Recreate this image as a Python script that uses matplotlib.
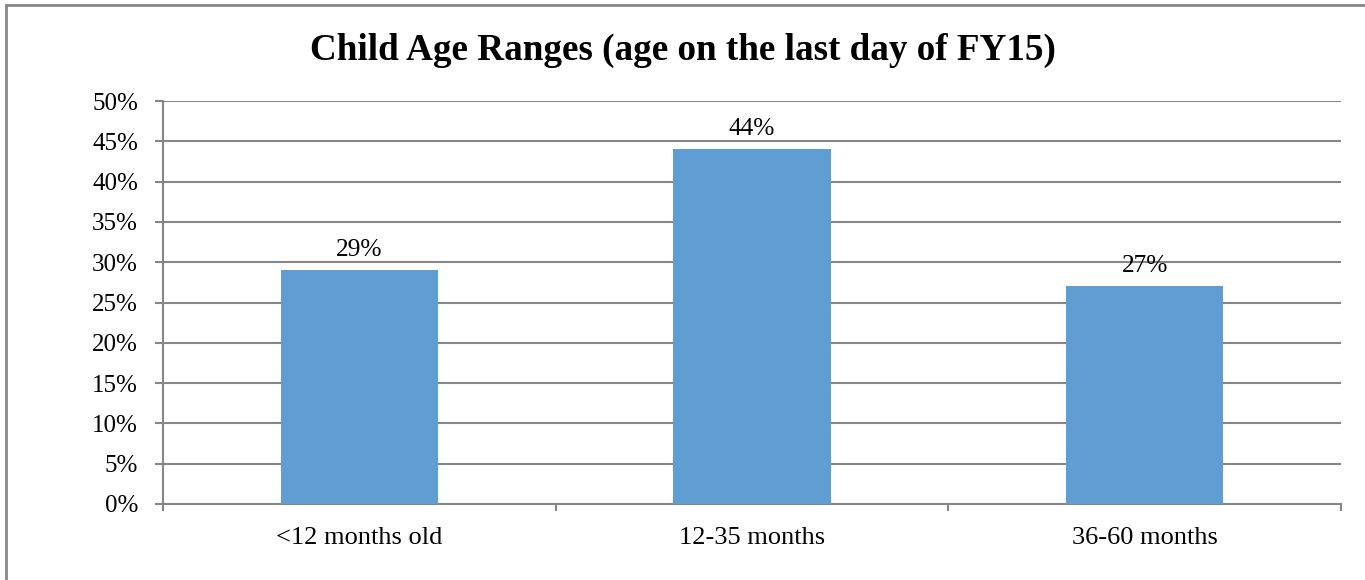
import matplotlib
matplotlib.use("Agg")
import matplotlib.pyplot as plt
from matplotlib.patches import Rectangle
from matplotlib.ticker import FixedLocator, FuncFormatter

categories = ["<12 months old", "12-35 months", "36-60 months"]
values = [29, 44, 27]
yticks = [0, 5, 10, 15, 20, 25, 30, 35, 40, 45, 50]

plt.rcParams["font.family"] = ["Liberation Serif", "DejaVu Serif"]

grey = "#868686"
bar_color = "#5F9DD3"

fig = plt.figure(figsize=(13.65, 5.8), dpi=100)
fig.patch.set_facecolor("white")

# outer chart frame
fig.patches.append(Rectangle((6 / 1365, -0.1), 1.2, 1.1 - 5 / 580,
                             transform=fig.transFigure, fill=False,
                             edgecolor=grey, linewidth=2.0))

ax = fig.add_axes([163 / 1365, 1 - 504 / 580, (1341 - 163) / 1365, (504 - 101) / 580])
x = list(range(len(categories)))
ax.bar(x, values, width=0.4, color=bar_color, zorder=3)

for xi, v in zip(x, values):
    ax.annotate(f"{v}%", (xi, v), xytext=(0, 7), textcoords="offset points",
                ha="center", va="bottom", fontsize=18.3)

ax.set_xlim(-0.5, len(categories) - 0.5)
ax.set_ylim(0, 50)
ax.set_yticks(yticks)
ax.yaxis.set_major_formatter(FuncFormatter(lambda v, p: f"{int(v)}%"))
ax.set_xticks(x)
ax.set_xticklabels(categories)
ax.xaxis.set_minor_locator(FixedLocator([i - 0.5 for i in range(len(categories) + 1)]))

ax.grid(axis="y", color=grey, linewidth=1.5, zorder=0)
for side in ["top", "right"]:
    ax.spines[side].set_visible(False)
for side in ["left", "bottom"]:
    ax.spines[side].set_color(grey)
    ax.spines[side].set_linewidth(1.5)

ax.tick_params(axis="y", direction="out", length=6, width=1.5, color=grey,
               labelsize=18, pad=12)
ax.tick_params(axis="x", which="major", length=0, labelsize=19, pad=16.5)
ax.tick_params(axis="x", which="minor", direction="out", length=5, width=1.5, color=grey)

fig.text(0.5, 1 - 50 / 580, "Child Age Ranges (age on the last day of FY15)",
         ha="center", va="center", fontsize=26.7, fontweight="bold")

fig.savefig("out.png", dpi=100, facecolor="white")
